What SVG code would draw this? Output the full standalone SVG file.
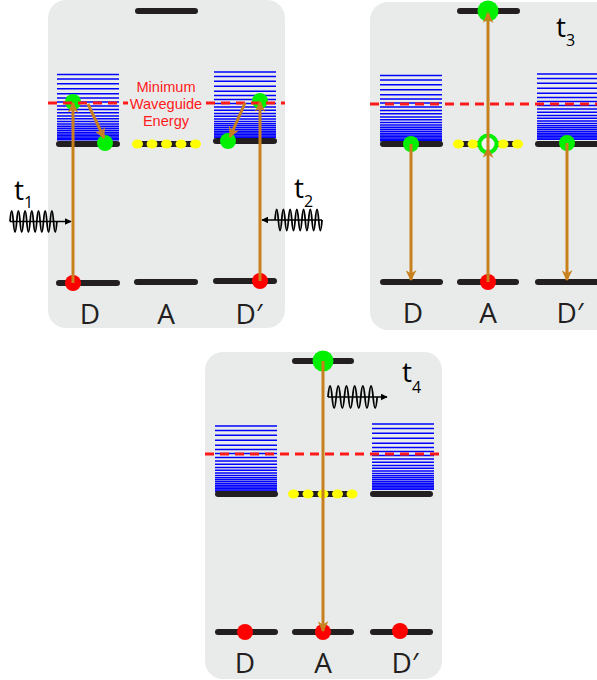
<svg xmlns="http://www.w3.org/2000/svg" xmlns:xlink="http://www.w3.org/1999/xlink" width="597" height="680" viewBox="0 0 597 680">
<style>
.panel{fill:#e9ebeb}
.bar{stroke:#231f20;stroke-width:6;stroke-linecap:round;fill:none}
.dash{stroke:#ff1a1a;stroke-width:3;stroke-dasharray:9 6;fill:none}
.blue line{stroke:#0000ff;stroke-width:1.5}
.yel{fill:#ffff00}
.grn{fill:#00f000}
.red{fill:#ff0000}
.arr{stroke:#c8801e;stroke-width:3;fill:none;marker-end:url(#ah)}
.wave{stroke:#000;stroke-width:1.8;fill:none}
.wline{stroke:#000;stroke-width:1.3;fill:none;marker-end:url(#bh)}
.lbl{font-family:"Open Sans","Liberation Sans",sans-serif;font-size:28px;fill:#231f20;text-anchor:middle}
.tl{font-family:"Open Sans","Liberation Sans",sans-serif;font-size:28px;fill:#000}
.wg{font-family:"Liberation Sans",Arial,sans-serif;font-size:14.6px;fill:#ff1a1a;text-anchor:middle}
</style>
<defs>
<marker id="ah" viewBox="0 0 10 10" refX="9" refY="5" markerWidth="11" markerHeight="11" markerUnits="userSpaceOnUse" orient="auto"><path d="M0,0 L10,5 L0,10 L3,5 z" fill="#c8801e"/></marker>
<marker id="bh" viewBox="0 0 10 10" refX="9" refY="5" markerWidth="7" markerHeight="7" markerUnits="userSpaceOnUse" orient="auto"><path d="M0,0 L10,5 L0,10 z" fill="#000"/></marker>
<g id="stack" class="blue">
<line x1="0" x2="62" y1="0" y2="0"/><line x1="0" x2="62" y1="4.5" y2="4.5"/><line x1="0" x2="62" y1="9.3" y2="9.3"/><line x1="0" x2="62" y1="14.3" y2="14.3"/><line x1="0" x2="62" y1="19.3" y2="19.3"/><line x1="0" x2="62" y1="23.6" y2="23.6"/><line x1="0" x2="62" y1="27.6" y2="27.6"/><line x1="0" x2="62" y1="31.4" y2="31.4"/><line x1="0" x2="62" y1="35" y2="35"/><line x1="0" x2="62" y1="38.3" y2="38.3"/><line x1="0" x2="62" y1="41.5" y2="41.5"/><line x1="0" x2="62" y1="44.3" y2="44.3"/><line x1="0" x2="62" y1="47" y2="47"/><line x1="0" x2="62" y1="49.4" y2="49.4"/><line x1="0" x2="62" y1="51.7" y2="51.7"/><line x1="0" x2="62" y1="53.8" y2="53.8"/><line x1="0" x2="62" y1="55.8" y2="55.8"/><line x1="0" x2="62" y1="57.7" y2="57.7"/><line x1="0" x2="62" y1="59.5" y2="59.5"/><line x1="0" x2="62" y1="61.1" y2="61.1"/><line x1="0" x2="62" y1="62.6" y2="62.6"/><line x1="0" x2="62" y1="64" y2="64"/><line x1="0" x2="62" y1="65.3" y2="65.3"/>
</g>
</defs>

<g id="panels">
<rect class="panel" x="48" y="0" width="237" height="328" rx="18"/>
<rect class="panel" x="370" y="2" width="245" height="328" rx="18"/>
<rect class="panel" x="205" y="352" width="237" height="327" rx="18"/>
</g>

<!-- Panel 1 (t1, t2) -->
<g id="p1-D">
<use xlink:href="#stack" transform="translate(57,74.5)"/>
<line class="bar" x1="59" y1="144" x2="117" y2="144"/>
<line class="bar" x1="59" y1="283" x2="117" y2="283"/>
<circle class="grn" cx="73" cy="102" r="8"/>
<circle class="grn" cx="105" cy="143" r="8"/>
<circle class="red" cx="73" cy="283" r="8"/>
</g>
<g id="p1-A">
<line class="bar" x1="138" y1="11" x2="195" y2="11"/>
<line class="bar" x1="136" y1="144" x2="197" y2="144"/>
<ellipse class="yel" cx="137.5" cy="144" rx="5.5" ry="4.5"/>
<ellipse class="yel" cx="152" cy="144" rx="5.5" ry="4.5"/>
<ellipse class="yel" cx="166.5" cy="144" rx="5.5" ry="4.5"/>
<ellipse class="yel" cx="181" cy="144" rx="5.5" ry="4.5"/>
<ellipse class="yel" cx="195.5" cy="144" rx="5.5" ry="4.5"/>
<line class="bar" x1="137" y1="282" x2="195" y2="282"/>
</g>
<g id="p1-Dp">
<use xlink:href="#stack" transform="translate(214,72)"/>
<line class="bar" x1="216" y1="141" x2="274" y2="141"/>
<line class="bar" x1="216" y1="281" x2="274" y2="281"/>
<circle class="grn" cx="260" cy="101" r="8"/>
<circle class="grn" cx="228" cy="141" r="8"/>
<circle class="red" cx="260" cy="281" r="8"/>
</g>

<!-- Panel 2 (t3) -->
<g id="p2-D">
<use xlink:href="#stack" transform="translate(380,75.5)"/>
<line class="bar" x1="383" y1="144" x2="440" y2="144"/>
<line class="bar" x1="383" y1="282" x2="440" y2="282"/>
<circle class="grn" cx="411" cy="144" r="8"/>
</g>
<g id="p2-A">
<line class="bar" x1="460" y1="11" x2="517" y2="11"/>
<circle class="grn" cx="488" cy="11" r="10.5"/>
<line class="bar" x1="458" y1="144" x2="519" y2="144"/>
<ellipse class="yel" cx="458.5" cy="144" rx="5.5" ry="4.5"/>
<ellipse class="yel" cx="473" cy="144" rx="5.5" ry="4.5"/>
<ellipse class="yel" cx="503" cy="144" rx="5.5" ry="4.5"/>
<ellipse class="yel" cx="517.5" cy="144" rx="5.5" ry="4.5"/>
<circle cx="488" cy="144" r="8.5" fill="#f2f3f3" stroke="#00f000" stroke-width="4"/>
<line class="bar" x1="460" y1="282" x2="516" y2="282"/>
<circle class="red" cx="488" cy="282" r="8"/>
</g>
<g id="p2-Dp">
<use xlink:href="#stack" transform="translate(537,74)"/>
<line class="bar" x1="538" y1="144" x2="602" y2="144"/>
<line class="bar" x1="538" y1="282" x2="602" y2="282"/>
<circle class="grn" cx="567" cy="143" r="8"/>
</g>

<!-- Panel 3 (t4) -->
<g id="p3-D">
<use xlink:href="#stack" transform="translate(215,426)"/>
<line class="bar" x1="218" y1="494" x2="275" y2="494"/>
<line class="bar" x1="218" y1="632" x2="275" y2="632"/>
<circle class="red" cx="245" cy="632" r="8"/>
</g>
<g id="p3-A">
<line class="bar" x1="295" y1="361" x2="351" y2="361"/>
<circle class="grn" cx="323" cy="361" r="10.5"/>
<line class="bar" x1="293" y1="494" x2="354" y2="494"/>
<ellipse class="yel" cx="293.5" cy="494" rx="5.5" ry="4.5"/>
<ellipse class="yel" cx="308" cy="494" rx="5.5" ry="4.5"/>
<ellipse class="yel" cx="323" cy="494" rx="5.5" ry="4.5"/>
<ellipse class="yel" cx="337.5" cy="494" rx="5.5" ry="4.5"/>
<ellipse class="yel" cx="352" cy="494" rx="5.5" ry="4.5"/>
<line class="bar" x1="295" y1="632" x2="351" y2="632"/>
<circle class="red" cx="323" cy="632" r="8"/>
</g>
<g id="p3-Dp">
<use xlink:href="#stack" transform="translate(372,424)"/>
<line class="bar" x1="373" y1="494" x2="430" y2="494"/>
<line class="bar" x1="373" y1="632" x2="430" y2="632"/>
<circle class="red" cx="400" cy="631" r="8"/>
</g>

<g id="waveguide-energy">
<path class="dash" d="M48,103 H128 M206,103 H285"/>
<path class="dash" d="M370,104 H597"/>
<path class="dash" d="M205,454 H442"/>
<text class="wg" x="166" y="92">Minimum</text>
<text class="wg" x="166" y="109">Waveguide</text>
<text class="wg" x="166" y="126">Energy</text>
</g>

<g id="connectors">
<line class="arr" x1="73" y1="283" x2="73" y2="103"/>
<line class="arr" x1="88" y1="104" x2="104" y2="138"/>
<line class="arr" x1="245" y1="103" x2="230" y2="137"/>
<line class="arr" x1="260" y1="281" x2="260" y2="102"/>
<line class="arr" x1="411" y1="144" x2="411" y2="280"/>
<line class="arr" x1="567" y1="143" x2="567" y2="280"/>
<line class="arr" x1="488" y1="282" x2="488" y2="148"/>
<line class="arr" x1="488" y1="148" x2="488" y2="13"/>
<line class="arr" x1="323" y1="361" x2="323" y2="631"/>
<path class="wave" d="M10,221.5 q1.68,-21 3.35,0 t3.35,0 t3.35,0 t3.35,0 t3.35,0 t3.35,0 t3.35,0 t3.35,0 t3.35,0 t3.35,0 t3.35,0 t3.35,0 t3.35,0 t3.35,0"/>
<path class="wline" d="M10,221.5 H71"/>
<path class="wave" d="M275,220 q1.68,-21 3.36,0 t3.36,0 t3.36,0 t3.36,0 t3.36,0 t3.36,0 t3.36,0 t3.36,0 t3.36,0 t3.36,0 t3.36,0 t3.36,0 t3.36,0 t3.36,0"/>
<path class="wline" d="M322,220 H262"/>
<path class="wave" d="M328,397 q2.05,-22 4.1,0 t4.1,0 t4.1,0 t4.1,0 t4.1,0 t4.1,0 t4.1,0 t4.1,0 t4.1,0 t4.1,0 t4.1,0 t4.1,0"/>
<path class="wline" d="M328,397 H387"/>
</g>

<g id="labels">
<text class="lbl" x="90" y="324">D</text>
<text class="lbl" x="166" y="324">A</text>
<text class="lbl" x="249" y="324">D′</text>
<text class="lbl" x="413" y="323">D</text>
<text class="lbl" x="488" y="323">A</text>
<text class="lbl" x="570" y="323">D′</text>
<text class="lbl" x="245" y="673">D</text>
<text class="lbl" x="323" y="673">A</text>
<text class="lbl" x="405" y="673">D′</text>
<text class="tl" x="14" y="200">t<tspan font-size="16" dy="8">1</tspan></text>
<text class="tl" x="294" y="198">t<tspan font-size="16" dy="9">2</tspan></text>
<text class="tl" x="556" y="37">t<tspan font-size="16" dy="9">3</tspan></text>
<text class="tl" x="402" y="382">t<tspan font-size="16" dy="11">4</tspan></text>
</g>
</svg>
